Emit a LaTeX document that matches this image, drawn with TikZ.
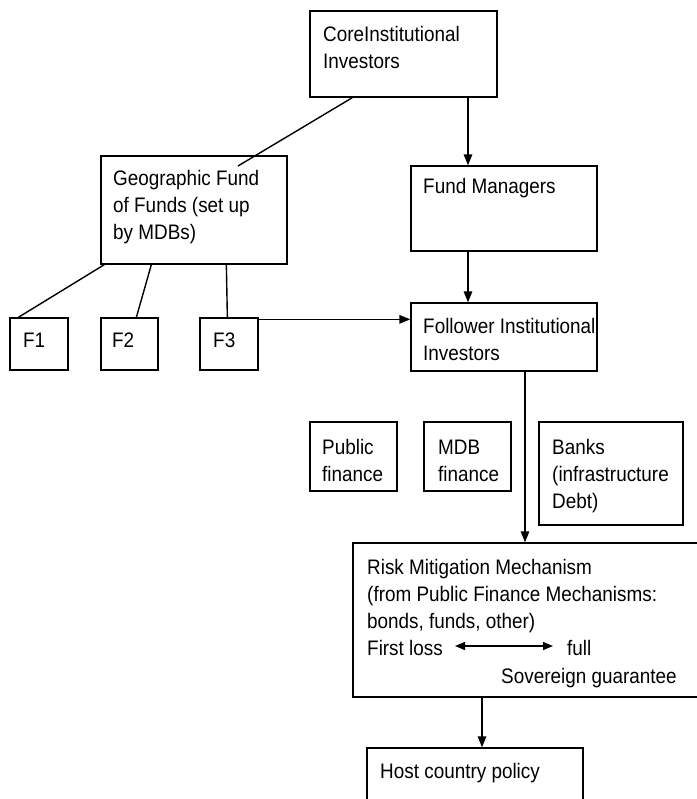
\documentclass[tikz,border=0pt]{standalone}
\usepackage{fontspec}
\setmainfont[FakeStretch=0.9]{Liberation Sans}
\usetikzlibrary{arrows.meta,calc}
\begin{document}
\begin{tikzpicture}[x=1pt,y=-1pt,
  box/.style={draw, line width=1.3pt, inner sep=0pt, rectangle},
  lbl/.style={anchor=base west, inner sep=0pt, align=left, font=\fontsize{21}{27}\selectfont},
  conn/.style={line width=1.4pt},
  arr/.style={conn, -{Triangle[length=11pt,width=8.5pt]}},
  dbl/.style={conn, {Triangle[length=10pt,width=8pt]}-{Triangle[length=10pt,width=8pt]}}
]
\useasboundingbox (0,0) rectangle (696,799);
% boxes
\node[box, minimum width=187pt, minimum height=86pt] (core) at (403.5,54) {};
\node[box, minimum width=186pt, minimum height=108pt] (geo) at (194,210) {};
\node[box, minimum width=186pt, minimum height=85pt] (fm) at (504,208.5) {};
\node[box, minimum width=58pt, minimum height=52pt] (f1) at (39,344) {};
\node[box, minimum width=57pt, minimum height=52pt] (f2) at (129.5,344) {};
\node[box, minimum width=58pt, minimum height=52pt] (f3) at (229,344) {};
\node[box, minimum width=186pt, minimum height=68pt] (fol) at (504,337) {};
\node[box, minimum width=87pt, minimum height=69pt] (pub) at (353.5,456.5) {};
\node[box, minimum width=87pt, minimum height=69pt] (mdb) at (467.5,456.5) {};
\node[box, minimum width=144pt, minimum height=103pt] (banks) at (611,473.5) {};
\node[box, minimum width=347pt, minimum height=154pt] (risk) at (526.5,620) {};
\node[box, minimum width=216pt, minimum height=62pt] (host) at (475,779) {};
% texts (anchor = baseline of the last line)
\node[lbl] (tcore) at (323,69) {CoreInstitutional\\Investors};
\node[lbl] (tgeo) at (113,240) {Geographic Fund\\of Funds (set up\\by MDBs)};
\node[lbl] (tfm) at (423,194) {Fund Managers};
\node[lbl] (tf1) at (23,347) {F1};
\node[lbl] (tf2) at (112,347) {F2};
\node[lbl] (tf3) at (213,347) {F3};
\node[lbl] (tfol) at (423,360) {Follower Institutional\\Investors};
\node[lbl] (tpub) at (322,481) {Public\\finance};
\node[lbl] (tmdb) at (438,481) {MDB\\finance};
\node[lbl] (tbanks) at (552,508) {Banks\\(infrastructure\\Debt)};
\node[lbl] (trisk) at (367,655) {Risk Mitigation Mechanism\\(from Public Finance Mechanisms:\\bonds, funds, other)\\First loss};
\node[lbl] (tfull) at (567,655) {full};
\node[lbl] (tsov) at (501,683) {Sovereign guarantee};
\node[lbl] (thost) at (380,778) {Host country policy};
% helper coordinates
\coordinate (xa) at (468,0);
\coordinate (xb) at (525,0);
\coordinate (xc) at (482,0);
\coordinate (geoin) at (238,166);
\coordinate (dl) at (455,646);
\coordinate (dr) at (553,646);
% connectors
\draw[conn] ($(core.south west)+(43,0)$) -- (geoin);
\draw[arr] (core.south -| xa) -- (fm.north -| xa);
\draw[arr] (fm.south -| xa) -- (fol.north -| xa);
\draw[conn] ($(geo.south west)+(4,0)$) -- ($(f1.north west)+(9,0)$);
\draw[conn] ($(geo.south west)+(51,0)$) -- ($(f2.north west)+(36,0)$);
\draw[conn] ($(geo.south west)+(126,0)$) -- ($(f3.north west)+(28,0)$);
\draw[arr] ($(f3.north east)+(0,2)$) -- (fol.west |- {$(f3.north east)+(0,2)$});
\draw[arr] (fol.south -| xb) -- (risk.north -| xb);
\draw[arr] (risk.south -| xc) -- (host.north -| xc);
\draw[dbl] (dl) -- (dr);
\end{tikzpicture}
\end{document}
